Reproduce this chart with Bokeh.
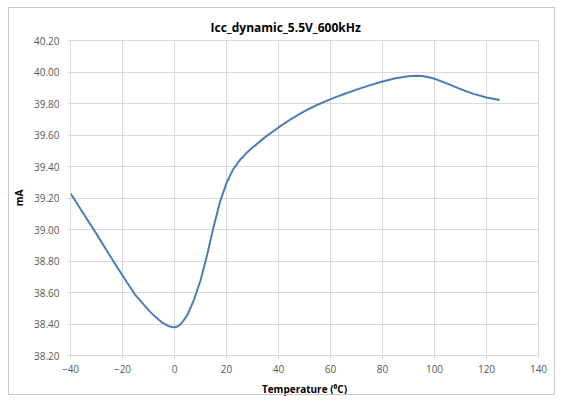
from bokeh.plotting import figure
from bokeh.models import Range1d, FixedTicker, Title, CustomJSTickFormatter, InlineStyleSheet
from bokeh.embed import file_html
from bokeh.resources import INLINE

# Data
temperature = [-40, -35, -30, -25, -20, -15, -10, -7.5, -5, -2.5, -1, 0, 1, 2.5, 5,
               7.5, 10, 12.5, 15, 17.5, 20, 22.5, 25, 27.5, 30, 35, 40, 45, 50, 55,
               60, 65, 70, 75, 80, 85, 90, 93, 95, 97.5, 100, 105, 110, 115, 120, 125]
icc_ma = [39.23, 39.10, 38.972, 38.838, 38.708, 38.583, 38.488, 38.447, 38.412, 38.388,
          38.381, 38.38, 38.383, 38.40, 38.458, 38.555, 38.676, 38.835, 39.015, 39.175,
          39.295, 39.38, 39.438, 39.482, 39.52, 39.588, 39.648, 39.703, 39.752, 39.792,
          39.828, 39.859, 39.888, 39.915, 39.94, 39.96, 39.973, 39.976, 39.975, 39.968,
          39.957, 39.926, 39.891, 39.861, 39.838, 39.822]

x_ticks = [-40, -20, 0, 20, 40, 60, 80, 100, 120, 140]
y_ticks = [38.2, 38.4, 38.6, 38.8, 39.0, 39.2, 39.4, 39.6, 39.8, 40.0, 40.2]

title_text = "Icc_dynamic_5.5V_600kHz"
x_label = "Temperature (\u2070C)"
y_label = "mA"

FONT = "Open Sans"
GRID = "#d9d9d9"
TICK_COLOR = "#595959"

p = figure(width=562, height=401, output_backend="svg", toolbar_location=None,
           frame_width=468, frame_height=315,
           x_range=Range1d(-40, 140), y_range=Range1d(38.2, 40.2))
p.min_border_left = 70
p.min_border_right = 24
p.min_border_top = 40
p.min_border_bottom = 46

p.title = Title(text=title_text, align="left", text_font=FONT,
                text_font_size="12px", text_font_style="bold", text_color="#000000",
                offset=140)
p.title.standoff = 9

p.line(temperature, icc_ma, line_color="#4a7ebb", line_width=2, line_join="round")

# outer chart-area border (drawn with CSS on the plot host)
p.stylesheets = [InlineStyleSheet(css=(
    ":host { position: relative; }"
    ":host::after { content: ''; position: absolute; left: 8px; top: 7px; "
    "width: 547px; height: 388px; border: 1px solid #c8c8c8; "
    "pointer-events: none; box-sizing: border-box; }"
))]

p.xaxis.ticker = FixedTicker(ticks=x_ticks)
p.yaxis.ticker = FixedTicker(ticks=y_ticks)
p.yaxis.formatter = CustomJSTickFormatter(code="return tick.toFixed(2);")

for ax in (p.xaxis, p.yaxis):
    ax.axis_line_color = GRID
    ax.major_tick_line_color = GRID
    ax.major_tick_in = 0
    ax.major_tick_out = 3
    ax.minor_tick_line_color = None
    ax.major_label_text_font = FONT
    ax.major_label_text_font_size = "10px"
    ax.major_label_text_color = TICK_COLOR
    ax.axis_label_text_font = FONT
    ax.axis_label_text_font_size = "10px"
    ax.axis_label_text_font_style = "bold"
    ax.axis_label_text_color = "#000000"

p.xaxis.axis_label = x_label
p.yaxis.axis_label = y_label
p.xaxis.major_label_standoff = 6
p.yaxis.major_label_standoff = 8
p.xaxis.axis_label_standoff = 6
p.yaxis.axis_label_standoff = 5

p.xgrid.grid_line_color = GRID
p.ygrid.grid_line_color = GRID
p.outline_line_color = GRID

open("out.html", "w").write(file_html(p, INLINE))
